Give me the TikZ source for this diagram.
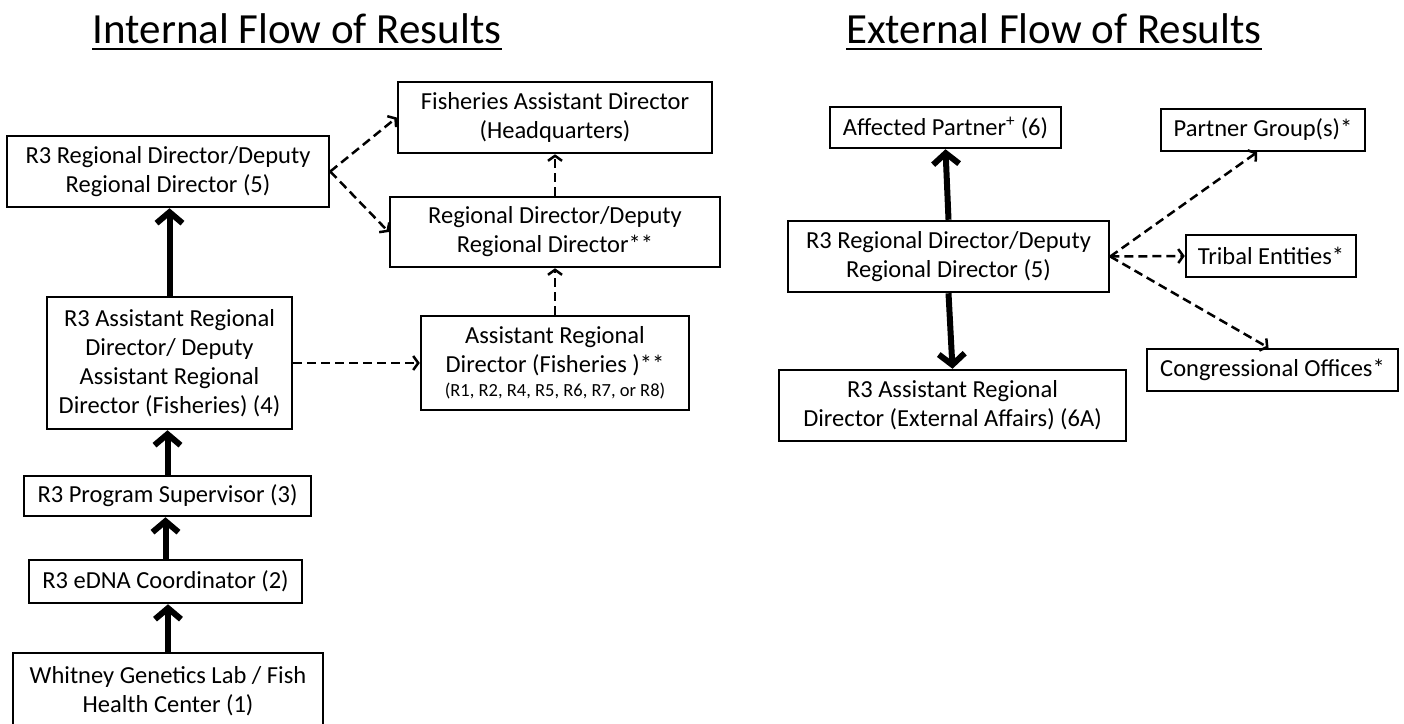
\documentclass[tikz,border=0pt]{standalone}
\usepackage{fontspec}
\setmainfont{Carlito}
\usetikzlibrary{arrows.meta}
\tikzset{
  box/.style={draw, line width=2.5pt, inner sep=0pt, align=center,
    font=\fontsize{24.5}{29}\selectfont},
  thickarrow/.style={line width=6pt, -{Straight Barb[length=11pt,width=26pt]}},
  dasharrow/.style={line width=2.5pt, dash pattern=on 9pt off 5pt,
    -{Straight Barb[length=5pt,width=14pt]}},
  titletext/.style={inner sep=0pt, font=\fontsize{43}{50}\selectfont, anchor=base},
  underline/.style={line width=2pt},
}
\begin{document}
\begin{tikzpicture}[x=1pt,y=-1pt]
\useasboundingbox (0,0) rectangle (1404,723);

% titles
\node[titletext] (tint) at (297,43) {Internal Flow of Results};
\draw[underline] ([yshift=-6pt]tint.base west) -- ([yshift=-6pt]tint.base east);
\node[titletext] (text) at (1054,43) {External Flow of Results};
\draw[underline] ([yshift=-6pt]text.base west) -- ([yshift=-6pt]text.base east);

% internal flow
\node[box, minimum width=322pt, minimum height=71pt] (b5) at (168,171.5)
  {R3 Regional Director/Deputy\\Regional Director (5)};
\node[box, minimum width=314pt, minimum height=71pt] (hq) at (555,117.5)
  {Fisheries Assistant Director\\(Headquarters)};
\node[box, minimum width=330pt, minimum height=70pt] (rd) at (555,232)
  {Regional Director/Deputy\\Regional Director**};
\node[box, minimum width=268pt, minimum height=94pt] (ard) at (555,363)
  {Assistant Regional\\Director (Fisheries )**\\[-5pt]{\fontsize{18.5}{21}\selectfont (R1, R2, R4, R5, R6, R7, or R8)}};
\node[box, minimum width=245pt, minimum height=132pt] (b4) at (169.5,363)
  {R3 Assistant Regional\\Director/ Deputy\\Assistant Regional\\Director (Fisheries) (4)};
\node[box, minimum width=287pt, minimum height=40pt] (b3) at (167.5,496)
  {R3 Program Supervisor (3)};
\node[box, minimum width=273pt, minimum height=43pt] (b2) at (165.5,581.5)
  {R3 eDNA Coordinator (2)};
\node[box, minimum width=310pt, minimum height=76pt] (b1) at (168,691)
  {Whitney Genetics Lab / Fish\\Health Center (1)};

\draw[thickarrow] (b1.north) -- (b1.north |- b2.south);
\draw[thickarrow] (b2.north) -- (b2.north |- b3.south);
\draw[thickarrow] (b3.north) -- (b3.north |- b4.south);
\draw[thickarrow] (b4.north) -- (b4.north |- b5.south);

\draw[dasharrow] (b4.east) -- (ard.west);
\draw[dasharrow] (ard.north) -- (rd.south);
\draw[dasharrow] (rd.north) -- (hq.south);
\draw[dasharrow] (b5.east) -- (hq.west);
\draw[dasharrow] (b5.east) -- (rd.west);

% external flow
\node[box, minimum width=231pt, minimum height=41pt] (aff) at (945.5,127.5)
  {Affected Partner\textsuperscript{+} (6)};
\node[box, minimum width=204pt, minimum height=42pt] (pg) at (1263,130)
  {Partner Group(s)*};
\node[box, minimum width=321pt, minimum height=71pt] (r3) at (948.5,256.5)
  {R3 Regional Director/Deputy\\Regional Director (5)};
\node[box, minimum width=170pt, minimum height=42pt] (tri) at (1271,256)
  {Tribal Entities*};
\node[box, minimum width=251pt, minimum height=42pt] (con) at (1272.5,370)
  {Congressional Offices*};
\node[box, minimum width=347pt, minimum height=71pt] (ea) at (952.5,405.5)
  {R3 Assistant Regional\\Director (External Affairs) (6A)};

\draw[thickarrow] (r3.north) -- (aff.south);
\draw[thickarrow] (r3.south) -- (ea.north);
\draw[dasharrow] (r3.east) -- ([xshift=-6pt]pg.south);
\draw[dasharrow] (r3.east) -- (tri.west);
\draw[dasharrow] (r3.east) -- ([xshift=-4pt]con.north);
\end{tikzpicture}
\end{document}
